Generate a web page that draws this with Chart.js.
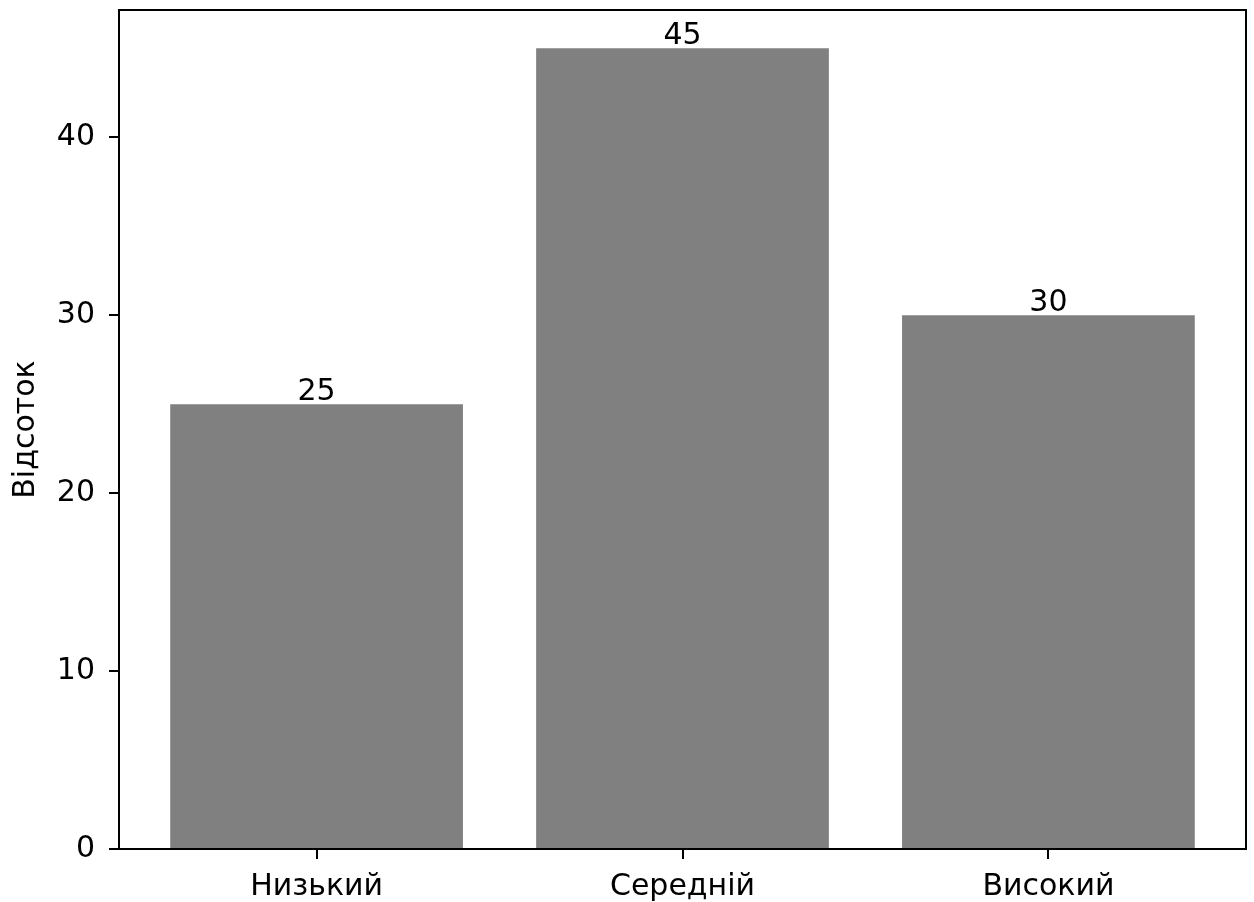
<!DOCTYPE html>
<html>
<head>
<meta charset="utf-8">
<script src="https://cdn.jsdelivr.net/npm/chart.js@4/dist/chart.umd.min.js"></script>
<style>
  html, body { margin: 0; padding: 0; background: #fff; }
  canvas { display: block; }
</style>
</head>
<body>
<canvas id="chart" width="1254" height="902"></canvas>
<script>
// data
const categories = ['Низький', 'Середній', 'Високий'];
const percents   = [25, 45, 30];
const yTicks     = [0, 10, 20, 30, 40];

const FONT = { family: 'DejaVu Sans', size: 30 };

// top/right spines (matplotlib box)
const frame = {
  id: 'frame',
  afterDraw(chart) {
    const { ctx, chartArea: a } = chart;
    ctx.save();
    ctx.strokeStyle = '#000';
    ctx.lineWidth = 2;
    ctx.strokeRect(a.left, a.top, a.right - a.left, a.bottom - a.top);
    ctx.restore();
  }
};

// value labels above bars
const barLabels = {
  id: 'barLabels',
  afterDatasetsDraw(chart) {
    const { ctx } = chart;
    const meta = chart.getDatasetMeta(0);
    ctx.save();
    ctx.font = `${FONT.size}px ${FONT.family}`;
    ctx.fillStyle = '#000';
    ctx.textAlign = 'center';
    ctx.textBaseline = 'alphabetic';
    meta.data.forEach((bar, i) => {
      ctx.fillText(String(percents[i]), bar.x, bar.y - 4);
    });
    ctx.restore();
  }
};

new Chart(document.getElementById('chart'), {
  type: 'bar',
  data: {
    datasets: [{
      data: percents.map((v, i) => ({ x: i, y: v })),
      backgroundColor: '#808080',
      borderWidth: 0,
      barPercentage: 0.8,
      categoryPercentage: 1.0,
    }]
  },
  options: {
    responsive: false,
    animation: false,
    devicePixelRatio: 1,
    layout: { padding: { left: 0, top: 10, right: 8, bottom: 0 } },
    plugins: { legend: { display: false }, tooltip: { enabled: false } },
    scales: {
      x: {
        type: 'linear',
        min: -0.54,
        max: 2.54,
        offset: false,
        afterBuildTicks: s => { s.ticks = categories.map((c, i) => ({ value: i })); },
        afterFit: s => { s.height = 53; s.paddingLeft = 0; s.paddingRight = 0; },
        ticks: {
          callback: v => categories[v],
          color: '#000',
          font: FONT,
          padding: 10,
          maxRotation: 0,
        },
        grid: { offset: false, drawOnChartArea: false, drawTicks: true, tickLength: 10, color: '#000', lineWidth: 2 },
        border: { display: true, color: '#000', width: 2 },
      },
      y: {
        min: 0,
        max: 47.15,
        afterBuildTicks: s => { s.ticks = yTicks.map(v => ({ value: v })); },
        afterFit: s => { s.width = 119; s.paddingTop = 0; s.paddingBottom = 0; },
        ticks: { color: '#000', font: FONT, padding: 14 },
        grid: { drawOnChartArea: false, drawTicks: true, tickLength: 10, color: '#000', lineWidth: 2 },
        border: { display: true, color: '#000', width: 2 },
        title: {
          display: true,
          text: 'Відсоток',
          color: '#000',
          font: FONT,
          padding: { top: 8, bottom: 0 },
        },
      }
    }
  },
  plugins: [frame, barLabels]
});
</script>
</body>
</html>
